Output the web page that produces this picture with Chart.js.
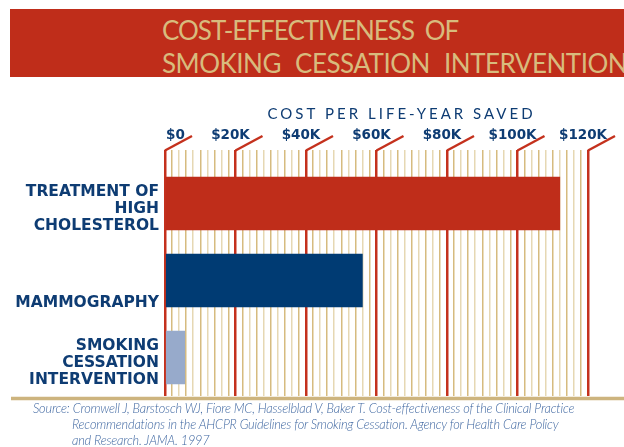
<!DOCTYPE html>
<html>
<head>
<meta charset="utf-8">
<script src="https://cdn.jsdelivr.net/npm/chart.js@4"></script>
<style>
  html, body { margin: 0; padding: 0; background: #fff; }
  body { width: 624px; height: 447px; position: relative; overflow: hidden; }
  #chart { position: absolute; left: 0; top: 0; }
  .banner {
    position: absolute; left: 10px; top: 9px; width: 614px; height: 68px;
    background: #bf2d1a; overflow: hidden; white-space: nowrap;
  }
  .banner div {
    position: absolute; left: 152px; color: #d8bb7d;
    font: 400 26px Lato, sans-serif; letter-spacing: -1px; word-spacing: 5px; line-height: 27px;
  }
  .banner div.l2 { letter-spacing: -0.5px; word-spacing: 8px; }
  .source {
    position: absolute; left: 33px; top: 400px; white-space: nowrap;
    font: italic 300 12.8px Lato, sans-serif; color: #3f67a1; line-height: 16px;
    letter-spacing: -0.2px;
  }
  .source .ind { padding-left: 39px; }
</style>
</head>
<body>
<canvas id="chart" width="624" height="447"></canvas>
<div class="banner">
  <div style="top: 8px">COST-EFFECTIVENESS OF</div>
  <div class="l2" style="top: 41px">SMOKING CESSATION INTERVENTION</div>
</div>
<div class="source">
  Source: Cromwell J, Barstosch WJ, Fiore MC, Hasselblad V, Baker T. Cost-effectiveness of the Clinical Practice<br>
  <span class="ind">Recommendations in the AHCPR Guidelines for Smoking Cessation. Agency for Health Care Policy</span><br>
  <span class="ind">and Research. JAMA. 1997</span>
</div>
<script>
// categories (multi-line labels), values in dollars per life-year saved
const categories = [
    ['TREATMENT OF', 'HIGH', 'CHOLESTEROL'],
    ['MAMMOGRAPHY'],
    ['SMOKING', 'CESSATION', 'INTERVENTION']
];
const costValues = [112000, 56000, 5600];
const barColors = ['#bf2d1a', '#003b73', '#97aacb'];

const tickValues = [0, 20000, 40000, 60000, 80000, 100000, 120000];
const tickLabels = ['$0', '$20K', '$40K', '$60K', '$80K', '$100K', '$120K'];
const axisTitle = 'COST PER LIFE-YEAR SAVED';

const RED = '#c4311d';
const NAVY = '#0e3c73';

// labels, diagonal tick marks and the base line
const overlayPlugin = {
    id: 'overlay',
    afterDraw(chart) {
        const { ctx, chartArea, scales: { x, y } } = chart;
        const gridTop = chartArea.top - 15;
        ctx.save();

        // diagonal flags on the major lines
        ctx.strokeStyle = RED;
        ctx.lineWidth = 2.5;
        tickValues.forEach(v => {
            const px = x.getPixelForValue(v);
            ctx.beginPath();
            ctx.moveTo(px, gridTop + 0.5);
            ctx.lineTo(px + 27, gridTop - 14);
            ctx.stroke();
        });

        // tick labels
        ctx.fillStyle = NAVY;
        ctx.font = 'bold 13.5px "DejaVu Sans", sans-serif';
        ctx.textAlign = 'center';
        ctx.textBaseline = 'alphabetic';
        tickValues.forEach((v, i) => {
            const w = ctx.measureText(tickLabels[i]).width;
            let cx = x.getPixelForValue(v) - 5;
            if (cx - w / 2 < chartArea.left) cx = chartArea.left + w / 2 + 1;
            ctx.fillText(tickLabels[i], cx, gridTop - 11);
        });

        // axis title
        ctx.font = '15px Lato, sans-serif';
        ctx.letterSpacing = '3px';
        ctx.fillText(axisTitle, (chartArea.left + chartArea.right) / 2 + 25, gridTop - 31);
        ctx.letterSpacing = '0px';

        // category labels, bottom-aligned with each bar
        ctx.font = 'bold 15.5px "DejaVu Sans", sans-serif';
        ctx.textAlign = 'right';
        categories.forEach((lines, i) => {
            const bottom = y.getPixelForValue(i) + 26.5;
            lines.forEach((t, j) => {
                ctx.fillText(t, chartArea.left - 6, bottom - (lines.length - 1 - j) * 17);
            });
        });

        // tan base line
        ctx.strokeStyle = '#cdb47e';
        ctx.lineWidth = 3.5;
        ctx.beginPath();
        ctx.moveTo(11, chartArea.bottom + 2.5);
        ctx.lineTo(624, chartArea.bottom + 2.5);
        ctx.stroke();

        ctx.restore();
    }
};

new Chart(document.getElementById('chart'), {
    type: 'bar',
    data: {
        labels: categories.map(c => c.join(' ')),
        datasets: [{
            data: costValues,
            backgroundColor: barColors,
            barThickness: 53,
            borderWidth: 0
        }]
    },
    options: {
        indexAxis: 'y',
        responsive: false,
        animation: false,
        layout: { padding: { left: 165, right: 36, top: 150, bottom: 51 } },
        plugins: { legend: { display: false }, tooltip: { enabled: false } },
        scales: {
            x: {
                position: 'top',
                min: 0,
                max: 120000,
                ticks: { stepSize: 2000, display: false, autoSkip: false },
                border: { display: false },
                grid: {
                    drawTicks: true,
                    tickLength: 15,
                    color: c => c.tick && c.tick.value % 20000 === 0 ? RED : (c.index % 2 ? '#d6bb7f' : '#e6d8b3'),
                    lineWidth: c => c.tick && c.tick.value % 20000 === 0 ? 2.5 : 1.5
                }
            },
            y: { display: false }
        }
    },
    plugins: [overlayPlugin]
});
</script>
</body>
</html>
